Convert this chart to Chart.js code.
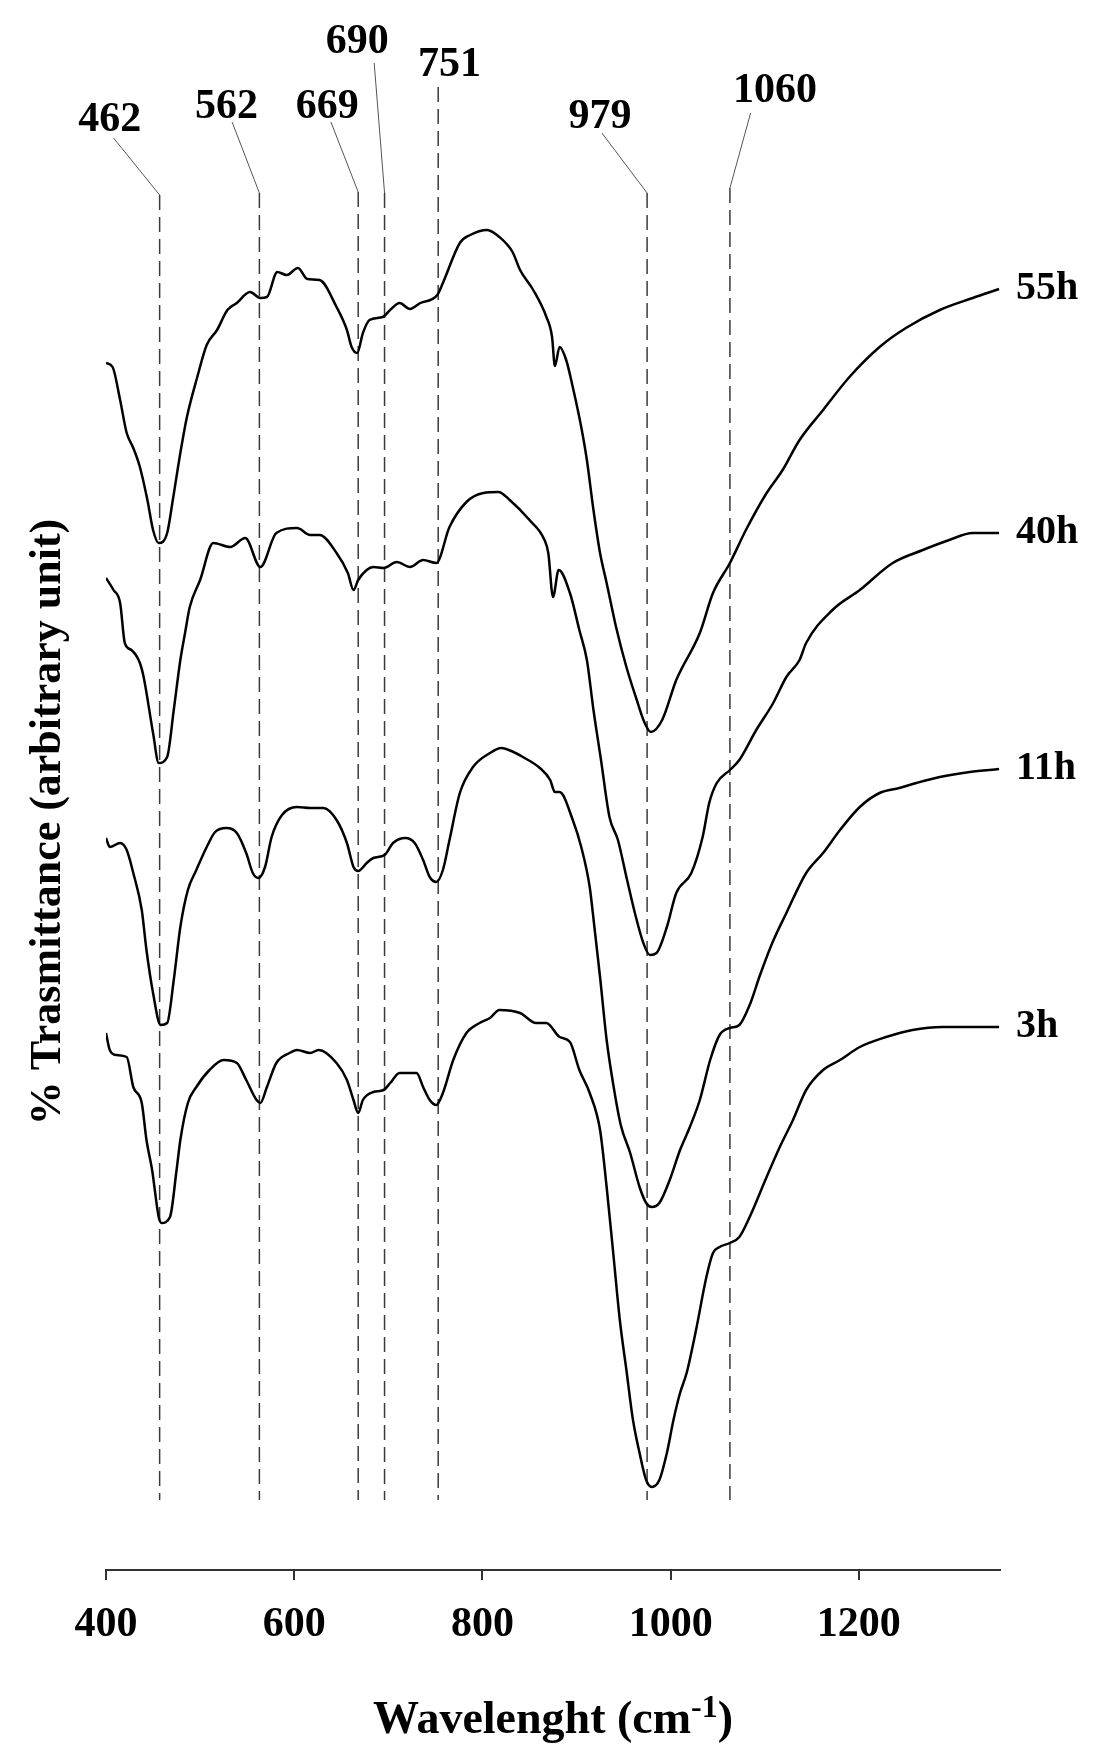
<!DOCTYPE html>
<html>
<head>
<meta charset="utf-8">
<script src="https://cdn.jsdelivr.net/npm/chart.js@4.4.1/dist/chart.umd.min.js"></script>
<style>
  html, body { margin: 0; padding: 0; background: #fff; }
  #wrap { width: 1105px; height: 1760px; position: relative; }
</style>
</head>
<body>
<div id="wrap"><canvas id="ftir"></canvas></div>
<script>
// x ticks and series names
const xTicks = [400, 600, 800, 1000, 1200];
const seriesNames = ["55h", "40h", "11h", "3h"];

// FTIR curves (wavenumber / transmittance, arbitrary unit)
const wn55 = [400,407,415,422,429,436,444,450,456,465,471,479,486,497,507,518,529,539,553,564,571,582,592,604,614,627,645,656,661,667,673,680,694,702,712,723,734,752,758,776,787,805,818,832,840,854,868,874,877,882,889,896,905,911,918,925,932,942,953,963,972,979,991,1006,1031,1045,1063,1080,1102,1119,1137,1162,1190,1222,1250,1286,1321,1349];
const tr55 = [120.7,120.3,117.0,113.7,112.2,110.3,107.0,104.0,102.7,103.7,107.0,111.7,115.3,119.3,122.5,124.0,126.0,126.7,127.8,127.2,127.3,129.8,129.5,130.2,129.1,129.0,126.3,124.0,122.3,121.7,123.7,125.0,125.3,126.0,126.7,126.1,126.7,127.5,128.7,132.7,133.5,134.0,133.3,131.8,130.0,128.0,125.3,123.3,120.4,122.3,121.0,118.3,114.3,111.0,106.0,101.7,98.7,94.3,90.3,87.3,84.8,83.8,85.0,89.0,93.7,97.7,100.7,104.0,107.7,110.0,113.0,116.0,119.3,122.3,124.2,126.0,127.2,128.1];

const wn40 = [400,408,415,420,427,436,440,450,456,465,472,479,484,489,500,514,532,548,564,581,603,617,627,645,657,663,668,677,684,695,709,723,737,751,765,783,801,817,829,850,866,870,875,881,893,903,911,918,926,935,944,953,962,971,978,985,996,1006,1022,1034,1041,1049,1063,1073,1091,1109,1123,1137,1144,1172,1201,1236,1268,1296,1321,1349];
const tr40 = [99.2,98.0,96.7,92.7,92.0,90.7,89.3,83.7,80.7,81.3,86.0,91.0,93.7,96.3,99.0,102.7,102.3,103.2,100.3,103.7,104.2,103.5,103.5,101.7,99.7,98.0,99.0,100.0,100.3,100.2,100.8,100.3,101.0,100.7,104.3,106.8,107.7,107.8,107.0,105.0,103.0,101.7,97.3,100.0,97.7,94.0,91.0,86.0,81.0,75.3,73.0,69.3,65.7,62.7,61.5,61.7,64.3,67.7,69.7,73.3,76.7,78.7,80.0,81.0,84.0,86.7,89.3,91.0,92.7,96.0,98.0,100.7,102.0,103.0,103.7,103.7];

const wn11 = [400,404,415,422,429,438,443,450,458,465,472,479,487,496,507,516,528,539,549,556,562,569,576,587,603,617,631,645,656,663,668,677,684,696,705,718,728,737,744,751,758,765,776,790,808,820,833,843,861,872,877,882,896,905,914,919,925,932,940,947,957,967,974,980,988,999,1010,1020,1031,1042,1052,1063,1073,1084,1095,1108,1123,1144,1162,1180,1201,1222,1243,1261,1286,1318,1349];
const tr11 = [73.2,72.3,72.7,72.0,69.7,66.0,62.0,57.7,54.5,54.7,59.0,64.3,68.0,70.0,72.3,73.8,74.2,73.7,71.7,69.7,69.2,70.3,73.3,75.5,76.3,76.2,76.2,75.0,72.7,70.3,69.9,70.7,71.2,71.5,72.7,73.2,72.7,71.0,69.3,68.8,70.0,73.0,77.7,80.3,81.7,82.2,81.8,81.3,80.2,79.0,77.8,77.8,75.0,72.3,68.3,64.3,59.3,53.0,48.0,44.5,41.7,38.3,36.7,36.3,36.7,39.0,42.0,44.2,47.0,51.0,53.5,54.2,54.5,56.5,59.5,62.7,65.7,69.7,71.7,74.0,76.3,77.7,78.2,78.7,79.3,79.8,80.1];

const wn3 = [400,404,411,422,429,438,443,449,456,459,468,475,479,487,496,510,525,539,549,560,564,571,581,595,603,617,626,645,656,663,668,673,684,695,702,712,730,737,744,751,758,769,783,797,808,818,840,857,868,882,893,903,914,925,932,939,946,953,960,967,974,980,988,996,1003,1010,1017,1027,1038,1045,1052,1063,1073,1084,1102,1116,1130,1144,1162,1180,1201,1229,1257,1289,1349];
const tr3 = [53.7,52.0,51.5,51.3,48.3,46.7,43.0,40.0,35.3,34.7,35.3,40.0,43.0,46.7,48.3,50.0,51.0,50.7,49.0,47.0,46.7,48.3,50.7,51.7,52.0,51.7,52.0,50.7,49.0,47.0,45.7,47.0,47.8,48.0,48.7,49.7,49.7,48.3,47.0,46.5,47.7,51.0,53.7,54.7,55.2,56.0,55.7,54.7,54.7,53.3,52.8,50.0,47.7,44.0,38.3,31.7,25.0,20.0,15.0,11.7,9.0,8.3,9.0,11.7,15.0,17.7,19.7,24.0,29.3,31.7,32.3,32.7,33.3,35.3,39.3,42.3,45.0,48.0,50.0,51.0,52.3,53.3,54.0,54.3,54.3];

// marked bands: where the dashed line sits, and its label
const peakPos = [457, 563, 668, 696, 753, 975, 1063];
const peakText = ["462", "562", "669", "690", "751", "979", "1060"];

// annotation layout (data units): label centre, leader start, dashed top
const labelAt = [[404, 145], [528, 146.3], [635, 146.3], [667, 152.8], [765, 150.5], [925, 145.3], [1111, 147.9]];
const leaderFrom = [[408, 143.2], [534, 144.8], [639, 144.8], [685, 150.7], null, [927, 143.7], [1085, 145.7]];
const dashTop = [137.5, 137.7, 137.8, 137.7, 148.3, 137.7, 138.2];
const dashBottom = 7;

const serif = "'Liberation Serif', 'Times New Roman', serif";

const series = [[wn55, tr55], [wn40, tr40], [wn11, tr11], [wn3, tr3]];

const datasets = series.map(([wn, tr], i) => ({
  label: seriesNames[i],
  data: wn.map((v, k) => ({ x: v, y: tr[k] })),
  borderColor: "#000",
  borderWidth: 2.5,
  pointRadius: 0,
  fill: false,
  showLine: true,
  cubicInterpolationMode: "monotone"
}));

const annotations = {
  id: "annotations",
  beforeDatasetsDraw(chart) {
    const { ctx, scales: { x, y } } = chart;
    ctx.save();
    // dashed band markers
    ctx.setLineDash([15, 7]);
    ctx.lineWidth = 1.5;
    ctx.strokeStyle = "#3a3a3a";
    peakPos.forEach((p, i) => {
      const px = x.getPixelForValue(p);
      ctx.beginPath();
      ctx.moveTo(px, y.getPixelForValue(dashTop[i]));
      ctx.lineTo(px, y.getPixelForValue(dashBottom));
      ctx.stroke();
    });
    // leader lines from labels
    ctx.setLineDash([]);
    ctx.lineWidth = 1;
    ctx.strokeStyle = "#555";
    peakPos.forEach((p, i) => {
      if (!leaderFrom[i]) return;
      ctx.beginPath();
      ctx.moveTo(x.getPixelForValue(leaderFrom[i][0]), y.getPixelForValue(leaderFrom[i][1]));
      ctx.lineTo(x.getPixelForValue(p), y.getPixelForValue(dashTop[i]));
      ctx.stroke();
    });
    ctx.restore();
  },
  afterDraw(chart) {
    const { ctx, chartArea, scales: { x, y } } = chart;
    ctx.save();
    ctx.fillStyle = "#000";

    // band labels
    ctx.font = "bold 42px " + serif;
    ctx.textAlign = "center";
    ctx.textBaseline = "middle";
    peakText.forEach((t, i) => {
      ctx.fillText(t, x.getPixelForValue(labelAt[i][0]), y.getPixelForValue(labelAt[i][1]));
    });

    // series names at the right end of each curve
    ctx.font = "bold 40px " + serif;
    ctx.textAlign = "left";
    series.forEach(([wn, tr], i) => {
      ctx.fillText(seriesNames[i], chartArea.right + 16, y.getPixelForValue(tr[tr.length - 1]));
    });

    // x axis title with superscript
    const main = "Wavelenght (cm";
    const sup = "-1";
    const close = ")";
    ctx.textBaseline = "alphabetic";
    ctx.font = "bold 46px " + serif;
    const wMain = ctx.measureText(main).width;
    const wClose = ctx.measureText(close).width;
    ctx.font = "bold 32px " + serif;
    const wSup = ctx.measureText(sup).width;
    let tx = (chartArea.left + chartArea.right) / 2 - (wMain + wSup + wClose) / 2;
    const base = 1733;
    ctx.font = "bold 46px " + serif;
    ctx.fillText(main, tx, base);
    tx += wMain;
    ctx.font = "bold 32px " + serif;
    ctx.fillText(sup, tx, base - 16);
    tx += wSup;
    ctx.font = "bold 46px " + serif;
    ctx.fillText(close, tx, base);

    // y axis title
    ctx.translate(60, 822);
    ctx.rotate(-Math.PI / 2);
    ctx.textAlign = "center";
    ctx.font = "bold 44px " + serif;
    ctx.fillText("% Trasmittance (arbitrary unit)", 0, 0);
    ctx.restore();
  }
};

new Chart(document.getElementById("ftir"), {
  type: "scatter",
  data: { datasets: datasets },
  options: {
    responsive: true,
    maintainAspectRatio: false,
    animation: false,
    layout: { padding: { left: 106, right: 105, top: 20, bottom: 0 } },
    plugins: {
      legend: { display: false },
      tooltip: { enabled: false }
    },
    scales: {
      x: {
        type: "linear",
        min: 400,
        max: 1350,
        afterBuildTicks: (scale) => { scale.ticks = xTicks.map(v => ({ value: v })); },
        afterFit: (scale) => { scale.height = 190; },
        grid: { drawOnChartArea: false, drawTicks: true, tickLength: 10, color: "#333", lineWidth: 2 },
        border: { display: true, color: "#333", width: 2 },
        ticks: {
          color: "#000",
          padding: 20,
          maxRotation: 0,
          font: { family: serif, size: 42, weight: "bold" },
          callback: (v) => String(v)
        }
      },
      y: {
        type: "linear",
        min: 0,
        max: 155,
        display: false
      }
    }
  },
  plugins: [annotations]
});
</script>
</body>
</html>
